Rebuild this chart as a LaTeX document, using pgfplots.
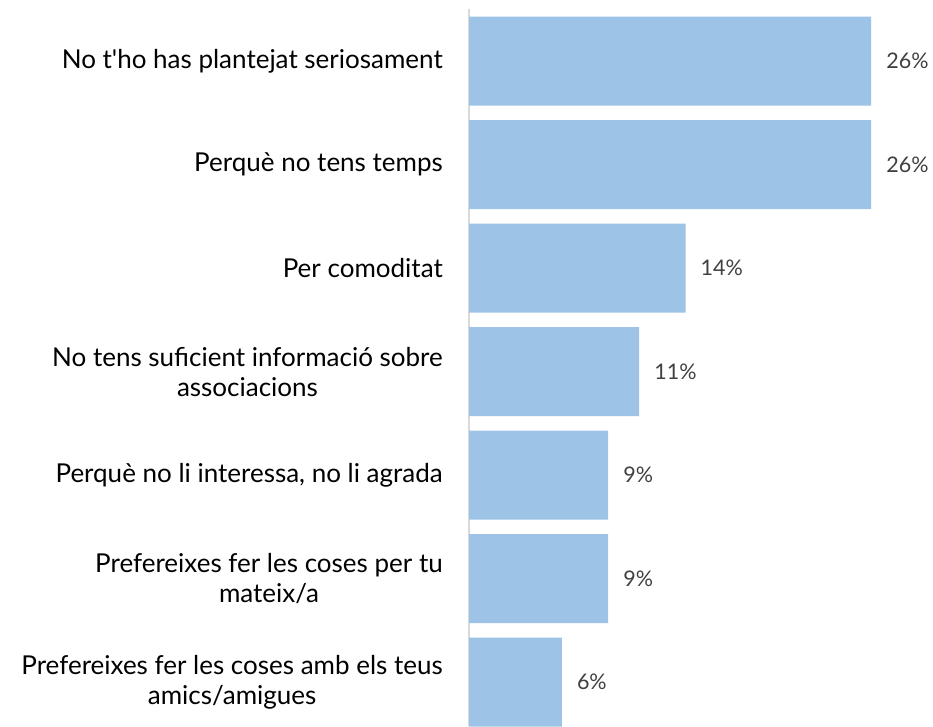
\documentclass[border=0pt]{standalone}
\usepackage{pgfplots}
\pgfplotsset{compat=1.18}
\usepackage{fontspec}
\setmainfont{Lato}[Ligatures=TeXOff]
\definecolor{barblue}{HTML}{9DC3E6}
\definecolor{valgray}{HTML}{404040}
\definecolor{axgray}{HTML}{D9D9D9}
\begin{document}
\begin{tikzpicture}
\begin{axis}[
  at={(469pt,0pt)}, anchor=south west,
  scale only axis,
  width=464pt, height=716.7pt,
  xbar, bar width=89pt,
  xmin=0, xmax=30,
  ymin=-0.5, ymax=6.425,
  y dir=reverse,
  axis x line=none,
  axis y line=left,
  y axis line style={-, draw=axgray, line width=2pt},
  major tick length=0pt,
  ytick={0,1,2,3,4,5,6},
  yticklabels={
    {No t'ho has plantejat seriosament},
    Perquè no tens temps,
    Per comoditat,
    {No tens suficient informació sobre\\associacions},
    {Perquè no li interessa, no li agrada},
    {Prefereixes fer les coses per tu\\mateix/a},
    {Prefereixes fer les coses amb els teus\\amics/amigues}},
  yticklabel style={align=center, inner sep=0pt, xshift=-26pt,
    font=\fontsize{26}{30}\selectfont, text=black},
  point meta=x,
  nodes near coords={\pgfmathprintnumber[fixed,precision=0]{\pgfplotspointmeta}\%},
  nodes near coords style={anchor=west, inner sep=0pt, xshift=15pt,
    font=\fontsize{21.5}{24}\selectfont, text=valgray,
    /pgf/number format/assume math mode=true},
]
\addplot[fill=barblue, draw=none] coordinates {
  (26,0) (26,1) (14,2) (11,3) (9,4) (9,5) (6,6)
};
\end{axis}
\pgfresetboundingbox
\path (0pt,0pt) rectangle (933pt,726pt);
\end{tikzpicture}
\end{document}
